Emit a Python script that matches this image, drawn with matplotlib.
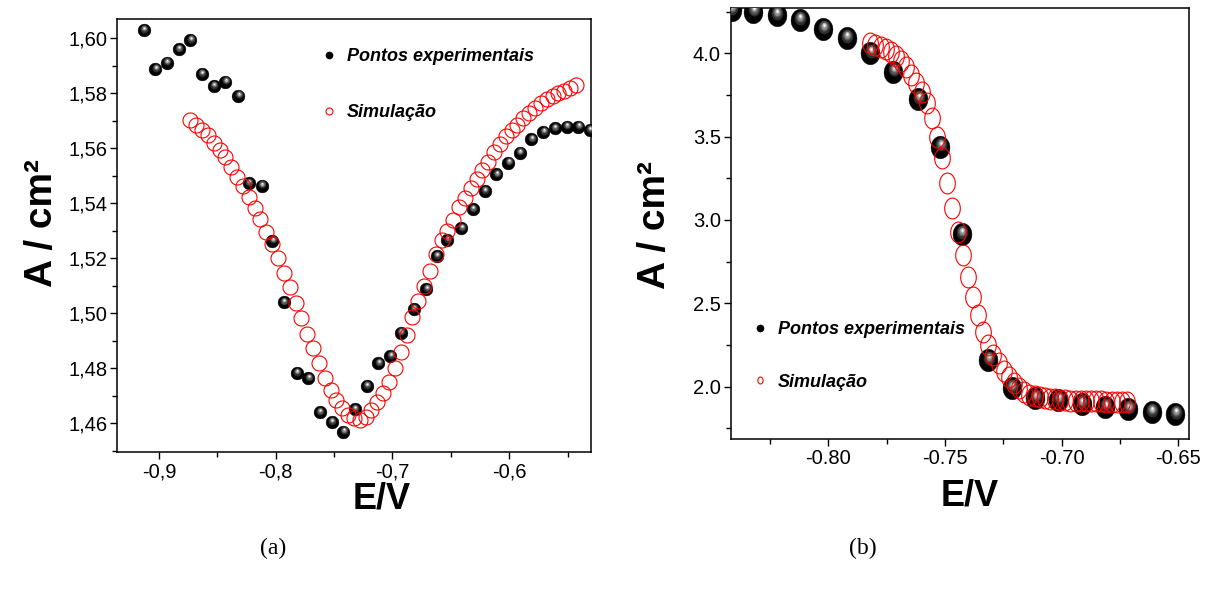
import numpy as np
import matplotlib
matplotlib.use("Agg")
import matplotlib.pyplot as plt
from matplotlib.path import Path
from matplotlib.lines import Line2D
from matplotlib.ticker import MultipleLocator, FuncFormatter
from matplotlib.transforms import offset_copy

# ---------------- data: panel (a) ----------------
exp_a_E = [-0.913, -0.903, -0.893, -0.883, -0.873, -0.863, -0.853, -0.843, -0.832, -0.823,
           -0.812, -0.803, -0.793, -0.782, -0.772, -0.762, -0.752, -0.742, -0.732, -0.722,
           -0.712, -0.702, -0.693, -0.682, -0.671, -0.662, -0.653, -0.641, -0.631, -0.621,
           -0.611, -0.601, -0.591, -0.581, -0.571, -0.561, -0.551, -0.541, -0.531]
exp_a_A = [1.6030, 1.5888, 1.5911, 1.5960, 1.5994, 1.5870, 1.5827, 1.5842, 1.5791, 1.5473,
           1.5464, 1.5264, 1.5040, 1.4784, 1.4764, 1.4640, 1.4605, 1.4570, 1.4651, 1.4736,
           1.4819, 1.4845, 1.4930, 1.5016, 1.5089, 1.5209, 1.5267, 1.5309, 1.5378, 1.5445,
           1.5505, 1.5548, 1.5584, 1.5633, 1.5660, 1.5673, 1.5679, 1.5679, 1.5667]

sim_a_E = [-0.873, -0.868, -0.863, -0.858, -0.853, -0.848, -0.843, -0.838, -0.833, -0.828,
           -0.823, -0.818, -0.813, -0.808, -0.803, -0.798, -0.793, -0.788, -0.783, -0.778,
           -0.773, -0.768, -0.763, -0.758, -0.753, -0.748, -0.743, -0.738, -0.733, -0.728,
           -0.723, -0.718, -0.713, -0.708, -0.703, -0.698, -0.693, -0.688, -0.683, -0.678,
           -0.673, -0.668, -0.663, -0.658, -0.653, -0.648, -0.643, -0.638, -0.633, -0.628,
           -0.623, -0.618, -0.613, -0.608, -0.603, -0.598, -0.593, -0.588, -0.583, -0.578,
           -0.573, -0.568, -0.563, -0.558, -0.553, -0.548, -0.543]
sim_a_A = [1.5703, 1.5685, 1.5667, 1.5648, 1.5620, 1.5594, 1.5570, 1.5533, 1.5497, 1.5463,
           1.5424, 1.5382, 1.5342, 1.5297, 1.5252, 1.5200, 1.5148, 1.5095, 1.5039, 1.4982,
           1.4925, 1.4873, 1.4818, 1.4766, 1.4721, 1.4685, 1.4655, 1.4630, 1.4618, 1.4612,
           1.4624, 1.4648, 1.4679, 1.4709, 1.4751, 1.4800, 1.4860, 1.4920, 1.4985, 1.5045,
           1.5100, 1.5155, 1.5215, 1.5265, 1.5300, 1.5340, 1.5385, 1.5420, 1.5455, 1.5490,
           1.5520, 1.5550, 1.5585, 1.5615, 1.5645, 1.5665, 1.5685, 1.5710, 1.5730, 1.5748,
           1.5763, 1.5778, 1.5790, 1.5800, 1.5810, 1.5818, 1.5830]

# ---------------- data: panel (b) ----------------
exp_b_E = [-0.8414, -0.8322, -0.8221, -0.8122, -0.8022, -0.7921, -0.7821, -0.7722, -0.7614, -0.7521,
           -0.7428, -0.7314, -0.7214, -0.7114, -0.7014, -0.6914, -0.6814, -0.6714, -0.6614, -0.6514]
exp_b_A = [4.26, 4.25, 4.23, 4.20, 4.146, 4.09, 4.00, 3.89, 3.724, 3.44,
           2.915, 2.16, 1.99, 1.93, 1.92, 1.896, 1.876, 1.864, 1.846, 1.836]

sim_b_E = [-0.7820, -0.7798, -0.7776, -0.7754, -0.7732, -0.7710, -0.7688, -0.7666, -0.7644, -0.7622,
           -0.7600, -0.7578, -0.7556, -0.7534, -0.7512, -0.7490, -0.7468, -0.7446, -0.7424, -0.7402,
           -0.7380, -0.7358, -0.7336, -0.7314, -0.7292, -0.7270, -0.7248, -0.7226, -0.7204, -0.7182,
           -0.7160, -0.7138, -0.7116, -0.7094, -0.7072, -0.7050, -0.7028, -0.7006, -0.6984, -0.6962,
           -0.6940, -0.6918, -0.6896, -0.6874, -0.6852, -0.6830, -0.6808, -0.6786, -0.6764, -0.6742,
           -0.6720]
sim_b_A = [4.060, 4.050, 4.038, 4.024, 4.006, 3.984, 3.955, 3.915, 3.870, 3.822,
           3.770, 3.700, 3.610, 3.500, 3.370, 3.220, 3.070, 2.930, 2.790, 2.660,
           2.540, 2.430, 2.330, 2.250, 2.190, 2.140, 2.095, 2.055, 2.020, 1.990,
           1.968, 1.952, 1.942, 1.935, 1.930, 1.926, 1.923, 1.920, 1.918, 1.916,
           1.915, 1.914, 1.913, 1.912, 1.911, 1.911, 1.910, 1.910, 1.909, 1.909,
           1.909]

label_exp = "Pontos experimentais"
label_sim = "Simulação"
xlabel = "E/V"
ylabel = "A / cm²"

# ---------------- style ----------------
SANS = ["Liberation Sans", "DejaVu Sans"]
SERIF = ["Liberation Serif", "DejaVu Serif"]
plt.rcParams["font.family"] = SANS
plt.rcParams["axes.linewidth"] = 1.1

W, H = 1208, 590
fig = plt.figure(figsize=(W / 100, H / 100), dpi=100)


def px_axes(l, r, t, b):
    return fig.add_axes([l / W, 1 - b / H, (r - l) / W, (b - t) / H])


def ellipse_marker(aspect):
    t = np.linspace(0, 2 * np.pi, 60)
    verts = np.column_stack([aspect * np.cos(t), np.sin(t)])
    return Path(verts, closed=True)


def spheres(ax, x, y, ms, aspect=1.0, zorder=3):
    mk = ellipse_marker(aspect)
    ax.plot(x, y, ls="none", marker=mk, ms=ms, mfc="black", mec="black", mew=0.3, zorder=zorder)
    layers = [(0.62, "#2e2e2e", 0.10), (0.46, "#585858", 0.13), (0.32, "#8c8c8c", 0.15),
              (0.20, "#c4c4c4", 0.17), (0.10, "#ffffff", 0.18)]
    for frac, col, dy in layers:
        tr = offset_copy(ax.transData, fig=fig, x=0.03 * ms, y=dy * ms, units="points")
        ax.plot(x, y, ls="none", marker=mk, ms=ms * frac, mfc=col, mec="none",
                transform=tr, zorder=zorder + 0.1)


def circles(ax, x, y, ms, aspect=1.0, zorder=5):
    ax.plot(x, y, ls="none", marker=ellipse_marker(aspect), ms=ms, mfc="none",
            mec="#ff0000", mew=0.8, zorder=zorder)


def style_axes(ax):
    for s in ax.spines.values():
        s.set_linewidth(1.1)
    ax.tick_params(which="both", direction="out", top=False, right=False,
                   labelsize=14.5, width=1.0, pad=2)
    ax.tick_params(which="major", length=5)
    ax.tick_params(which="minor", length=3.5)


comma = FuncFormatter(lambda v, p: ("%.1f" % v).replace(".", ","))
comma2 = FuncFormatter(lambda v, p: ("%.2f" % v).replace(".", ","))

# ---------------- panel (a) ----------------
ax1 = px_axes(117.3, 590.7, 19.0, 452.3)
spheres(ax1, exp_a_E, exp_a_A, ms=9.2)
circles(ax1, sim_a_E, sim_a_A, ms=10.8)
ax1.set_xlim(-0.9356, -0.5303)
ax1.set_ylim(1.4495, 1.6070)
ax1.xaxis.set_major_locator(MultipleLocator(0.1))
ax1.xaxis.set_minor_locator(MultipleLocator(0.05))
ax1.yaxis.set_major_locator(MultipleLocator(0.02))
ax1.yaxis.set_minor_locator(MultipleLocator(0.01))
ax1.xaxis.set_major_formatter(comma)
ax1.yaxis.set_major_formatter(comma2)
style_axes(ax1)
ax1.set_xlabel(xlabel, fontsize=26, fontweight="bold", va="center")
ax1.xaxis.set_label_coords((382 - 117.3) / 473.4, (452.3 - 499) / 433.3)
ax1.set_ylabel(ylabel, fontsize=28, fontweight="bold", va="center")
ax1.yaxis.set_label_coords((42 - 117.3) / 473.4, (452.3 - 223) / 433.3)

# ---------------- panel (b) ----------------
ax2 = px_axes(730.7, 1189.0, 8.3, 439.0)
spheres(ax2, exp_b_E, exp_b_A, ms=16.2, aspect=0.84)
circles(ax2, sim_b_E, sim_b_A, ms=15.0, aspect=0.75)
ax2.set_xlim(-0.8418, -0.6454)
ax2.set_ylim(1.686, 4.270)
ax2.xaxis.set_major_locator(MultipleLocator(0.05))
ax2.xaxis.set_minor_locator(MultipleLocator(0.025))
ax2.yaxis.set_major_locator(MultipleLocator(0.5))
ax2.yaxis.set_minor_locator(MultipleLocator(0.25))
ax2.xaxis.set_major_formatter(FuncFormatter(lambda v, p: "%.2f" % v))
ax2.yaxis.set_major_formatter(FuncFormatter(lambda v, p: "%.1f" % v))
style_axes(ax2)
ax2.set_xlabel(xlabel, fontsize=26, fontweight="bold", va="center")
ax2.xaxis.set_label_coords((970 - 730.7) / 458.3, (439 - 496) / 430.7)
ax2.set_ylabel(ylabel, fontsize=28, fontweight="bold", va="center")
ax2.yaxis.set_label_coords((655 - 730.7) / 458.3, (439 - 225) / 430.7)

# ---------------- legends ----------------
leg_font = dict(family=SANS, weight="bold", style="italic", size=13.0)


def add_legend(ax, anchor, spacing, aspect_sim=1.0):
    handles = [
        Line2D([], [], ls="none", marker="o", ms=4.5, mfc="black", mec="black"),
        Line2D([], [], ls="none", marker=ellipse_marker(aspect_sim), ms=5.0, mfc="none",
               mec="#ff0000", mew=0.8),
    ]
    ax.legend(handles, [label_exp, label_sim], loc="upper left", bbox_to_anchor=anchor,
              frameon=False, prop=leg_font, handlelength=0.8, handletextpad=0.6,
              labelspacing=spacing, borderpad=0, borderaxespad=0)


add_legend(ax1, ((321.5 - 117.3) / 473.4, (452.3 - 48) / 433.3), 2.15)
add_legend(ax2, ((752.5 - 730.7) / 458.3, (439 - 321) / 430.7), 1.98, aspect_sim=0.75)

# ---------------- captions ----------------
fig.text(273 / W, 1 - 548 / H, "(a)", family=SERIF, fontsize=17, ha="center", va="center")
fig.text(863 / W, 1 - 548 / H, "(b)", family=SERIF, fontsize=17, ha="center", va="center")

fig.savefig("out.png", dpi=100)
